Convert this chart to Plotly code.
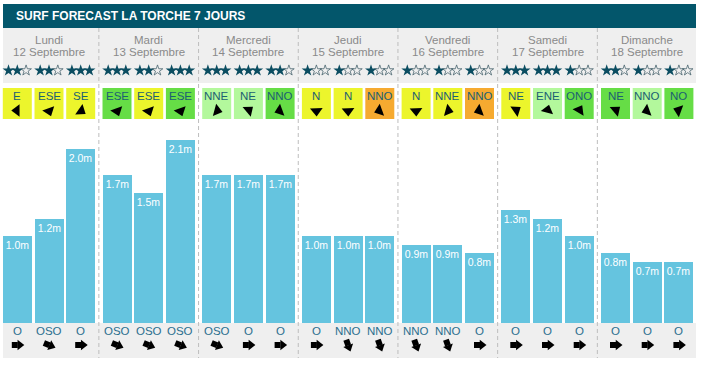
import math
import plotly.graph_objects as go

# ---------------- data ----------------
title = "SURF FORECAST LA TORCHE 7 JOURS"
days = ["Lundi", "Mardi", "Mercredi", "Jeudi", "Vendredi", "Samedi", "Dimanche"]
dates = ["12 Septembre", "13 Septembre", "14 Septembre", "15 Septembre",
         "16 Septembre", "17 Septembre", "18 Septembre"]
heights = [1.0, 1.2, 2.0, 1.7, 1.5, 2.1, 1.7, 1.7, 1.7, 1.0, 1.0, 1.0,
           0.9, 0.9, 0.8, 1.3, 1.2, 1.0, 0.8, 0.7, 0.7]
stars = [2, 2, 3, 3, 2, 3, 3, 3, 2, 1, 1, 1, 1, 1, 1, 3, 3, 1, 2, 1, 1]
wind_dir = ["E", "ESE", "SE", "ESE", "ESE", "ESE", "NNE", "NE", "NNO",
            "N", "N", "NNO", "N", "NNE", "NNO", "NE", "ENE", "ONO",
            "NE", "NNO", "NO"]
wind_level = ["y", "y", "y", "g", "y", "g", "l", "l", "g", "y", "y", "o",
              "y", "y", "o", "y", "l", "g", "g", "l", "g"]
wind_arrow_deg = [270, 160, 125, 160, 160, 160, 105, 50, 250, 178, 178, 250,
                  178, 105, 250, 55, 15, 30, 50, 250, 290]
swell_dir = ["O", "OSO", "O", "OSO", "OSO", "OSO", "OSO", "O", "O",
             "O", "NNO", "NNO", "NNO", "NNO", "O", "O", "O", "O", "O", "O", "O"]
swell_arrow_deg = [90, 112, 90, 112, 112, 112, 112, 90, 90, 90, 160, 160,
                   160, 160, 90, 90, 90, 90, 90, 90, 90]

# ---------------- styling / layout constants ----------------
W, H = 701, 365
X0, DAY_W, PITCH, BAR_W = 17.3, 99.7, 31.7, 29
LEFT, RIGHT = 3, 696
BASE_Y, PX_PER_M = 323, 87
FONT = "Liberation Sans, Arial, sans-serif"
TEAL = "#03566B"
BAR_C = "#65C4DF"
BAND = "#EFEFEF"
WIND_COLORS = {"y": "#ECF52C", "g": "#66DD46", "l": "#B3F89C", "o": "#F6AA30"}
WIND_ARROW_Y, SWELL_ARROW_Y = 110.5, 345

n_slots = len(heights)
centers = [X0 + (k // 3) * DAY_W + (k % 3) * PITCH for k in range(n_slots)]
day_centers = [centers[3 * d + 1] for d in range(len(days))]
seps = [centers[3 * d + 2] + (DAY_W - 2 * PITCH) / 2 for d in range(len(days) - 1)]


def shift(x, y, deg, dist):
    """move a point by dist px along compass direction deg (pixel y grows downwards)"""
    r = math.radians(deg)
    return x + dist * math.sin(r), y - dist * math.cos(r)


fig = go.Figure()

# bars (heights axis y2)
fig.add_trace(go.Bar(
    x=centers, y=heights, width=BAR_W, xaxis="x", yaxis="y2",
    marker=dict(color=BAR_C, line=dict(width=0)),
    text=[f"{h:.1f}m" for h in heights], textposition="inside",
    insidetextanchor="end", textangle=0, constraintext="none",
    textfont=dict(color="white", size=10.5, family=FONT),
    hoverinfo="skip", showlegend=False,
))

# stars
fx, ex = [], []
for k, s in enumerate(stars):
    for i in range(3):
        px = centers[k] - 8.8 + i * 8.8
        (fx if i < s else ex).append(px)
fig.add_trace(go.Scatter(x=fx, y=[70.5] * len(fx), mode="markers", xaxis="x", yaxis="y",
                         marker=dict(symbol="star", size=9, color="#0B4D61", line=dict(width=0)),
                         hoverinfo="skip", showlegend=False))
fig.add_trace(go.Scatter(x=ex, y=[70.5] * len(ex), mode="markers", xaxis="x", yaxis="y",
                         marker=dict(symbol="star-open", size=8, color="#4A6670", line=dict(width=0.8)),
                         hoverinfo="skip", showlegend=False))

# wind arrows (arrowhead, pointing along the drawn direction)
wx, wy = [], []
for k, c in enumerate(centers):
    x, y = shift(c, WIND_ARROW_Y, wind_arrow_deg[k], 0.5)
    wx.append(x)
    wy.append(y)
fig.add_trace(go.Scatter(x=wx, y=wy, mode="markers", xaxis="x", yaxis="y",
                         marker=dict(symbol="triangle-up", size=11, color="black",
                                     angle=wind_arrow_deg, line=dict(width=0)),
                         hoverinfo="skip", showlegend=False))

# swell arrows: block body + head
bx, by, hx, hy = [], [], [], []
for k, c in enumerate(centers):
    x, y = shift(c, SWELL_ARROW_Y, swell_arrow_deg[k], -2.5)
    bx.append(x)
    by.append(y)
    x, y = shift(c, SWELL_ARROW_Y, swell_arrow_deg[k], 2.5)
    hx.append(x)
    hy.append(y)
fig.add_trace(go.Scatter(x=bx, y=by, mode="markers", xaxis="x", yaxis="y",
                         marker=dict(symbol="square", size=6, color="black",
                                     angle=swell_arrow_deg, line=dict(width=0)),
                         hoverinfo="skip", showlegend=False))
fig.add_trace(go.Scatter(x=hx, y=hy, mode="markers", xaxis="x", yaxis="y",
                         marker=dict(symbol="triangle-up", size=9, color="black",
                                     angle=swell_arrow_deg, line=dict(width=0)),
                         hoverinfo="skip", showlegend=False))

shapes = []
shapes.append(dict(type="rect", xref="x", yref="y", x0=LEFT, x1=RIGHT, y0=4, y1=28,
                   fillcolor=TEAL, line=dict(width=0), layer="below"))
shapes.append(dict(type="rect", xref="x", yref="y", x0=LEFT, x1=RIGHT, y0=28, y1=83,
                   fillcolor=BAND, line=dict(width=0), layer="below"))
shapes.append(dict(type="rect", xref="x", yref="y", x0=LEFT, x1=RIGHT, y0=BASE_Y, y1=358,
                   fillcolor=BAND, line=dict(width=0), layer="below"))
for k, c in enumerate(centers):
    shapes.append(dict(type="rect", xref="x", yref="y", x0=c - BAR_W / 2, x1=c + BAR_W / 2,
                       y0=88, y1=119, fillcolor=WIND_COLORS[wind_level[k]],
                       line=dict(width=0), layer="below"))
for s in seps:
    shapes.append(dict(type="line", xref="x", yref="y", x0=s, x1=s, y0=28, y1=358,
                       line=dict(color="#BDBDBD", width=1, dash="4px,3px"), layer="below"))

ann = []
ann.append(dict(x=14, y=16, xref="x", yref="y", text=f"<b>{title}</b>", showarrow=False,
                xanchor="left", yanchor="middle",
                font=dict(family=FONT, size=12, color="white")))
for d in range(len(days)):
    ann.append(dict(x=day_centers[d], y=39.5, xref="x", yref="y", text=days[d], showarrow=False,
                    font=dict(family=FONT, size=11.5, color="#8A8A8A")))
    ann.append(dict(x=day_centers[d], y=52, xref="x", yref="y", text=dates[d], showarrow=False,
                    font=dict(family=FONT, size=11.5, color="#8A8A8A")))
for k, c in enumerate(centers):
    ann.append(dict(x=c, y=96, xref="x", yref="y", text=wind_dir[k], showarrow=False,
                    font=dict(family=FONT, size=11.5, color="#1B5F72")))
    ann.append(dict(x=c, y=331, xref="x", yref="y", text=swell_dir[k], showarrow=False,
                    font=dict(family=FONT, size=11.5, color="#2A6E8E")))

fig.update_layout(
    width=W, height=H, margin=dict(l=0, r=0, t=0, b=0, pad=0),
    paper_bgcolor="white", plot_bgcolor="white",
    xaxis=dict(range=[0, W], visible=False, fixedrange=True),
    yaxis=dict(range=[H, 0], visible=False, fixedrange=True),
    yaxis2=dict(range=[-(H - BASE_Y) / PX_PER_M, BASE_Y / PX_PER_M], overlaying="y",
                visible=False, fixedrange=True),
    shapes=shapes, annotations=ann, showlegend=False, bargap=0,
)

fig.write_html("out.html", config={"displayModeBar": False},
               post_script="document.body.style.margin='0';document.body.style.overflow='hidden';")
